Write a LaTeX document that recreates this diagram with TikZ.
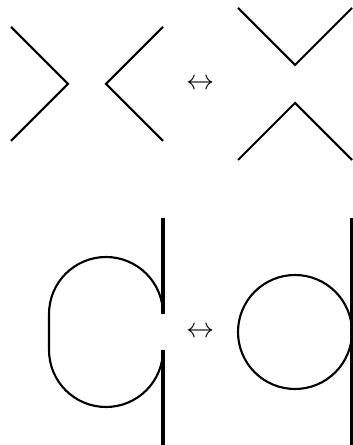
\documentclass[tikz,border=0pt]{standalone}
\begin{document}
\begin{tikzpicture}[x=0.0125cm, y=0.0125cm,
    strand/.style={line width=0.75pt},
    wall/.style={line width=1.1pt}]
  \useasboundingbox (0,0) rectangle (352,445);
  % top row: crossing smoothing
  \draw[strand] (11,418) -- (68,361) -- (11,304);
  \draw[strand] (163,418) -- (106,361) -- (163,304);
  \node (swapA) at (201,361) {$\leftrightarrow$};
  \draw[strand] (238,437) -- (295,380) -- (352,437);
  \draw[strand] (238,285) -- (295,342) -- (352,285);
  % bottom row: loop against a strand
  \def\r{57}
  \draw[wall] (163,227) -- (163,131);
  \draw[wall] (163,95) -- (163,0);
  \draw[strand] (163,131) arc (0:180:\r) -- (49,95) arc (180:360:\r);
  \node (swapB) at (201,113) {$\leftrightarrow$};
  \draw[strand] (295,113) circle (\r);
  \draw[wall] (352,227) -- (352,0);
\end{tikzpicture}
\end{document}
